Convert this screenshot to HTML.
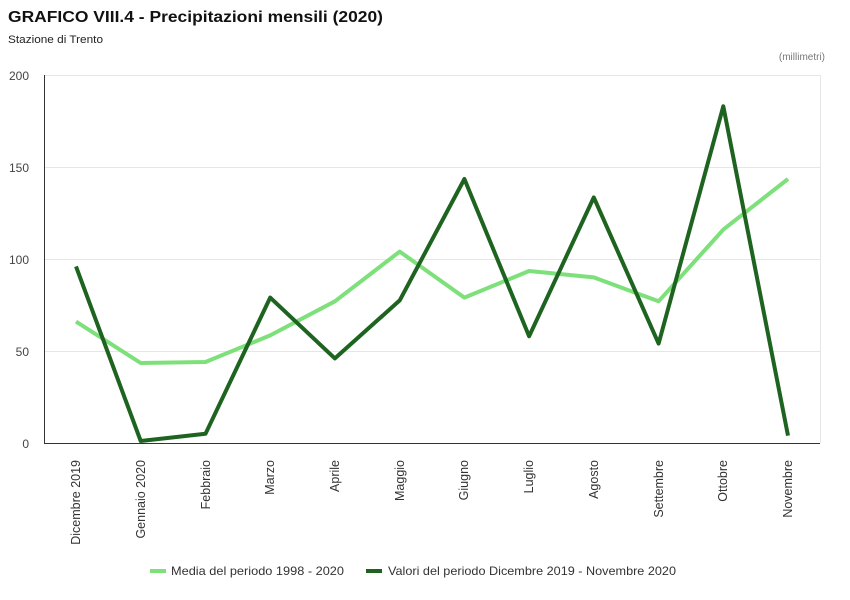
<!DOCTYPE html>
<html><head><meta charset="utf-8"><style>
body{margin:0;background:#fff;width:850px;height:600px;overflow:hidden}
svg{display:block;font-family:"Liberation Sans","DejaVu Sans",sans-serif}
</style></head><body>
<svg width="850" height="600" viewBox="0 0 850 600">
<text x="8" y="22" font-size="16" font-weight="bold" fill="#111" textLength="375" lengthAdjust="spacingAndGlyphs">GRAFICO VIII.4 - Precipitazioni mensili (2020)</text>
<text x="8" y="43" font-size="11" fill="#222" textLength="95" lengthAdjust="spacingAndGlyphs">Stazione di Trento</text>
<text x="825" y="60" font-size="10" fill="#777" text-anchor="end">(millimetri)</text>
<g stroke="#e6e6e6" stroke-width="1">
<line x1="44" y1="75.5" x2="820" y2="75.5"/>
<line x1="44" y1="167.5" x2="820" y2="167.5"/>
<line x1="44" y1="259.5" x2="820" y2="259.5"/>
<line x1="44" y1="351.5" x2="820" y2="351.5"/>
<line x1="820.5" y1="75" x2="820.5" y2="443"/>
</g>
<line x1="44.5" y1="75" x2="44.5" y2="443" stroke="#333"/>
<line x1="44" y1="443.5" x2="820" y2="443.5" stroke="#333"/>
<g font-size="12" fill="#444" text-anchor="end">
<text x="29" y="80">200</text><text x="29" y="172">150</text><text x="29" y="264">100</text><text x="29" y="356">50</text><text x="29" y="448">0</text>
</g>
<g font-size="12.5" fill="#333" text-anchor="end">
<text transform="translate(80,460) rotate(-90)">Dicembre 2019</text>
<text transform="translate(145,460) rotate(-90)">Gennaio 2020</text>
<text transform="translate(210,460) rotate(-90)">Febbraio</text>
<text transform="translate(274,460) rotate(-90)">Marzo</text>
<text transform="translate(339,460) rotate(-90)">Aprile</text>
<text transform="translate(404,460) rotate(-90)">Maggio</text>
<text transform="translate(468,460) rotate(-90)">Giugno</text>
<text transform="translate(533,460) rotate(-90)">Luglio</text>
<text transform="translate(598,460) rotate(-90)">Agosto</text>
<text transform="translate(663,460) rotate(-90)">Settembre</text>
<text transform="translate(727,460) rotate(-90)">Ottobre</text>
<text transform="translate(792,460) rotate(-90)">Novembre</text>
</g>
<polyline fill="none" stroke="#7ee07a" stroke-width="4" stroke-linejoin="round" points="76,321.6 140.7,363 205.5,362 270.2,335.4 334.9,301.3 399.7,251.6 464.4,297.6 529.1,271 593.8,277.4 658.6,301.3 723.3,229.6 788,179"/>
<polyline fill="none" stroke="#1e6420" stroke-width="4" stroke-linejoin="round" points="76,266.4 140.7,441 205.5,433.8 270.2,297.6 334.9,358.4 399.7,300.4 464.4,179 529.1,336.3 593.8,197.4 658.6,343.6 723.3,106.3 788,435.6"/>
<line x1="150" y1="571" x2="166" y2="571" stroke="#7ee07a" stroke-width="4"/>
<text x="171" y="575" font-size="12" fill="#333" textLength="173" lengthAdjust="spacingAndGlyphs">Media del periodo 1998 - 2020</text>
<line x1="366" y1="571" x2="382" y2="571" stroke="#1e6420" stroke-width="4"/>
<text x="388" y="575" font-size="12" fill="#333" textLength="288" lengthAdjust="spacingAndGlyphs">Valori del periodo Dicembre 2019 - Novembre 2020</text>
</svg>
</body></html>
